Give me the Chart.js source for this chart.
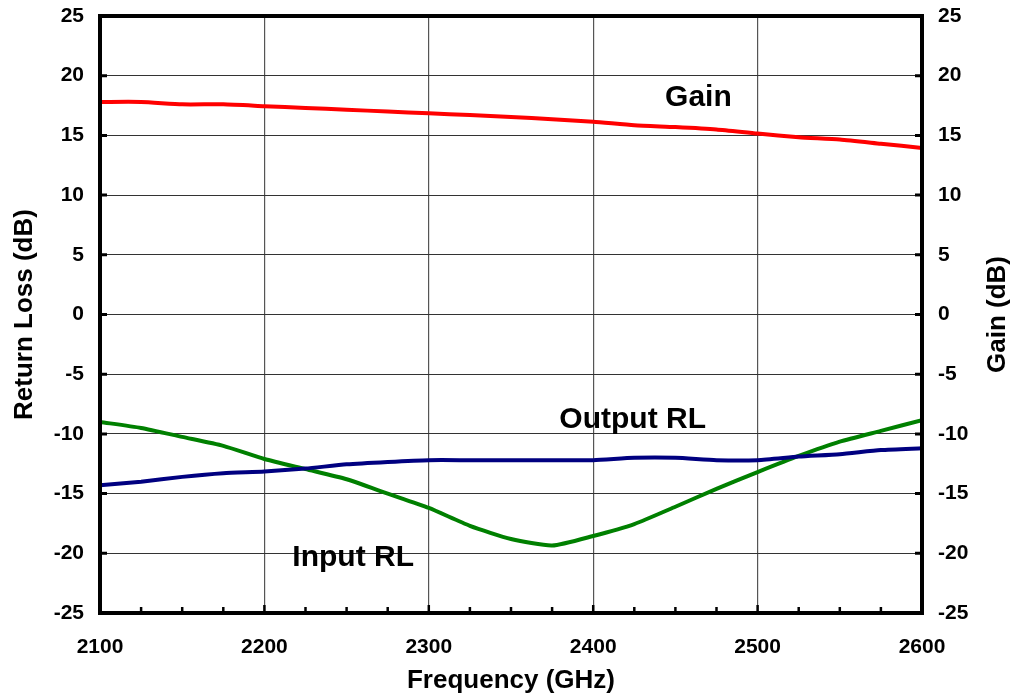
<!DOCTYPE html>
<html>
<head>
<meta charset="utf-8">
<script src="https://cdn.jsdelivr.net/npm/chart.js@4"></script>
<style>
  html, body { margin: 0; padding: 0; background: #fff; }
  #wrap { width: 1013px; height: 698px; }
</style>
</head>
<body>
<div id="wrap"><canvas id="chartMain" width="1013" height="698"></canvas></div>
<script>
// ===== DATA =====
const freqs = [2100, 2125, 2150, 2175, 2200, 2225, 2250, 2275, 2300, 2325, 2350,
               2375, 2400, 2425, 2450, 2475, 2500, 2525, 2550, 2575, 2600];

const gainDb = [17.8, 17.8, 17.6, 17.6, 17.45, 17.3, 17.15, 17.0, 16.85, 16.7, 16.55,
                16.35, 16.15, 15.85, 15.7, 15.5, 15.15, 14.85, 14.65, 14.3, 13.95];

const inputRL = [-9.0, -9.5, -10.25, -11.0, -12.1, -12.95, -13.8, -15.0, -16.2, -17.7, -18.8,
                 -19.35, -18.55, -17.55, -16.1, -14.6, -13.2, -11.85, -10.65, -9.75, -8.85];

const outputRL = [-14.3, -14.0, -13.6, -13.3, -13.15, -12.9, -12.55, -12.35, -12.2, -12.2, -12.2,
                  -12.2, -12.2, -12.0, -12.0, -12.2, -12.2, -11.9, -11.7, -11.35, -11.2];

// label teks di dalam plot: [teks, frekuensi, dB]
const curveLabels = [
  ['Gain', 2464, 17.5],
  ['Output RL', 2424, -9.5],
  ['Input RL', 2254, -21.1],
];

const FONT = "'Liberation Sans', Arial, sans-serif";

const toXY = (arr) => arr.map((v, i) => ({ x: freqs[i], y: v }));

// ===== PLUGIN: frame, tick ke dalam, judul kanan, label kurva =====
const framePlugin = {
  id: 'frame',
  afterDraw(chart) {
    const { ctx, chartArea: a, scales } = chart;
    const x = scales.x, y = scales.y;
    ctx.save();
    ctx.strokeStyle = '#000';
    ctx.lineCap = 'butt';

    // tick kiri & kanan
    ctx.lineWidth = 3;
    y.ticks.forEach(t => {
      const py = y.getPixelForValue(t.value);
      ctx.beginPath();
      ctx.moveTo(a.left, py); ctx.lineTo(a.left + 7, py);
      ctx.moveTo(a.right - 7, py); ctx.lineTo(a.right, py);
      ctx.stroke();
    });

    // tick bawah (minor tiap 25)
    ctx.lineWidth = 2.5;
    x.ticks.forEach(t => {
      const px = x.getPixelForValue(t.value);
      const len = t.value % 100 === 0 ? 8 : 6;
      ctx.beginPath();
      ctx.moveTo(px, a.bottom); ctx.lineTo(px, a.bottom - len);
      ctx.stroke();
    });

    // frame tebal
    ctx.lineWidth = 4;
    ctx.strokeRect(a.left, a.top, a.right - a.left, a.bottom - a.top);

    // judul sumbu kanan (dibaca dari bawah ke atas)
    ctx.fillStyle = '#000';
    ctx.font = `bold 26px ${FONT}`;
    ctx.textAlign = 'center';
    ctx.textBaseline = 'middle';
    ctx.translate(998, (a.top + a.bottom) / 2);
    ctx.rotate(-Math.PI / 2);
    ctx.fillText('Gain (dB)', 0, 0);
    ctx.setTransform(1, 0, 0, 1, 0, 0);

    // label kurva
    ctx.font = `bold 30px ${FONT}`;
    ctx.textBaseline = 'alphabetic';
    curveLabels.forEach(([txt, fx, fy]) => {
      ctx.fillText(txt, x.getPixelForValue(fx), y.getPixelForValue(fy));
    });
    ctx.restore();
  }
};

// ===== CHART =====
const ctxMain = document.getElementById('chartMain').getContext('2d');

const tickFont = { family: FONT, size: 21, weight: 'bold' };
const titleFont = { family: FONT, size: 26, weight: 'bold' };

// ukuran scale dikunci supaya area plot pas
const fixY = (w) => (s) => { s.width = w; s.paddingTop = 0; s.paddingBottom = 0; };

const mainChart = new Chart(ctxMain, {
  type: 'line',
  data: {
    datasets: [
      {
        label: 'Output RL',
        data: toXY(outputRL),
        borderColor: '#000080',
        borderWidth: 4,
        pointRadius: 0,
        tension: 0.2,
        yAxisID: 'y',
      },
      {
        label: 'Input RL',
        data: toXY(inputRL),
        borderColor: '#008000',
        borderWidth: 4,
        pointRadius: 0,
        tension: 0.2,
        yAxisID: 'y',
      },
      {
        label: 'Gain',
        data: toXY(gainDb),
        borderColor: '#ff0000',
        borderWidth: 4,
        pointRadius: 0,
        tension: 0.2,
        yAxisID: 'y2',
      },
    ],
  },
  options: {
    responsive: false,
    animation: false,
    layout: { padding: { top: 16, left: 0, right: 0, bottom: 0 } },
    plugins: {
      legend: { display: false },
      tooltip: { enabled: false },
    },
    scales: {
      x: {
        type: 'linear',
        min: 2100,
        max: 2600,
        ticks: {
          stepSize: 25,
          autoSkip: false,
          maxRotation: 0,
          padding: 22,
          color: '#000',
          font: tickFont,
          callback: (v) => (v % 100 === 0 ? String(v) : ''),
        },
        grid: {
          drawTicks: false,
          lineWidth: 1.2,
          color: (c) => (c.tick && c.tick.value % 100 === 0 ? '#555' : 'rgba(0,0,0,0)'),
        },
        border: { display: false },
        title: {
          display: true,
          text: 'Frequency (GHz)',
          color: '#000',
          font: titleFont,
          padding: { top: 4, bottom: 2 },
        },
        afterFit: (s) => { s.height = 85; s.paddingLeft = 0; s.paddingRight = 0; },
      },
      y: {
        type: 'linear',
        position: 'left',
        min: -25,
        max: 25,
        ticks: { stepSize: 5, padding: 16, color: '#000', font: tickFont },
        grid: { drawTicks: false, color: '#333', lineWidth: 1 },
        border: { display: false },
        title: {
          display: true,
          text: 'Return Loss (dB)',
          color: '#000',
          font: titleFont,
          padding: { top: 9, bottom: 0 },
        },
        afterFit: fixY(100),
      },
      y2: {
        type: 'linear',
        position: 'right',
        min: -25,
        max: 25,
        ticks: { stepSize: 5, padding: 16, color: '#000', font: tickFont },
        grid: { drawTicks: false, drawOnChartArea: false },
        border: { display: false },
        afterFit: fixY(91),
      },
    },
  },
  plugins: [framePlugin],
});
</script>
</body>
</html>
